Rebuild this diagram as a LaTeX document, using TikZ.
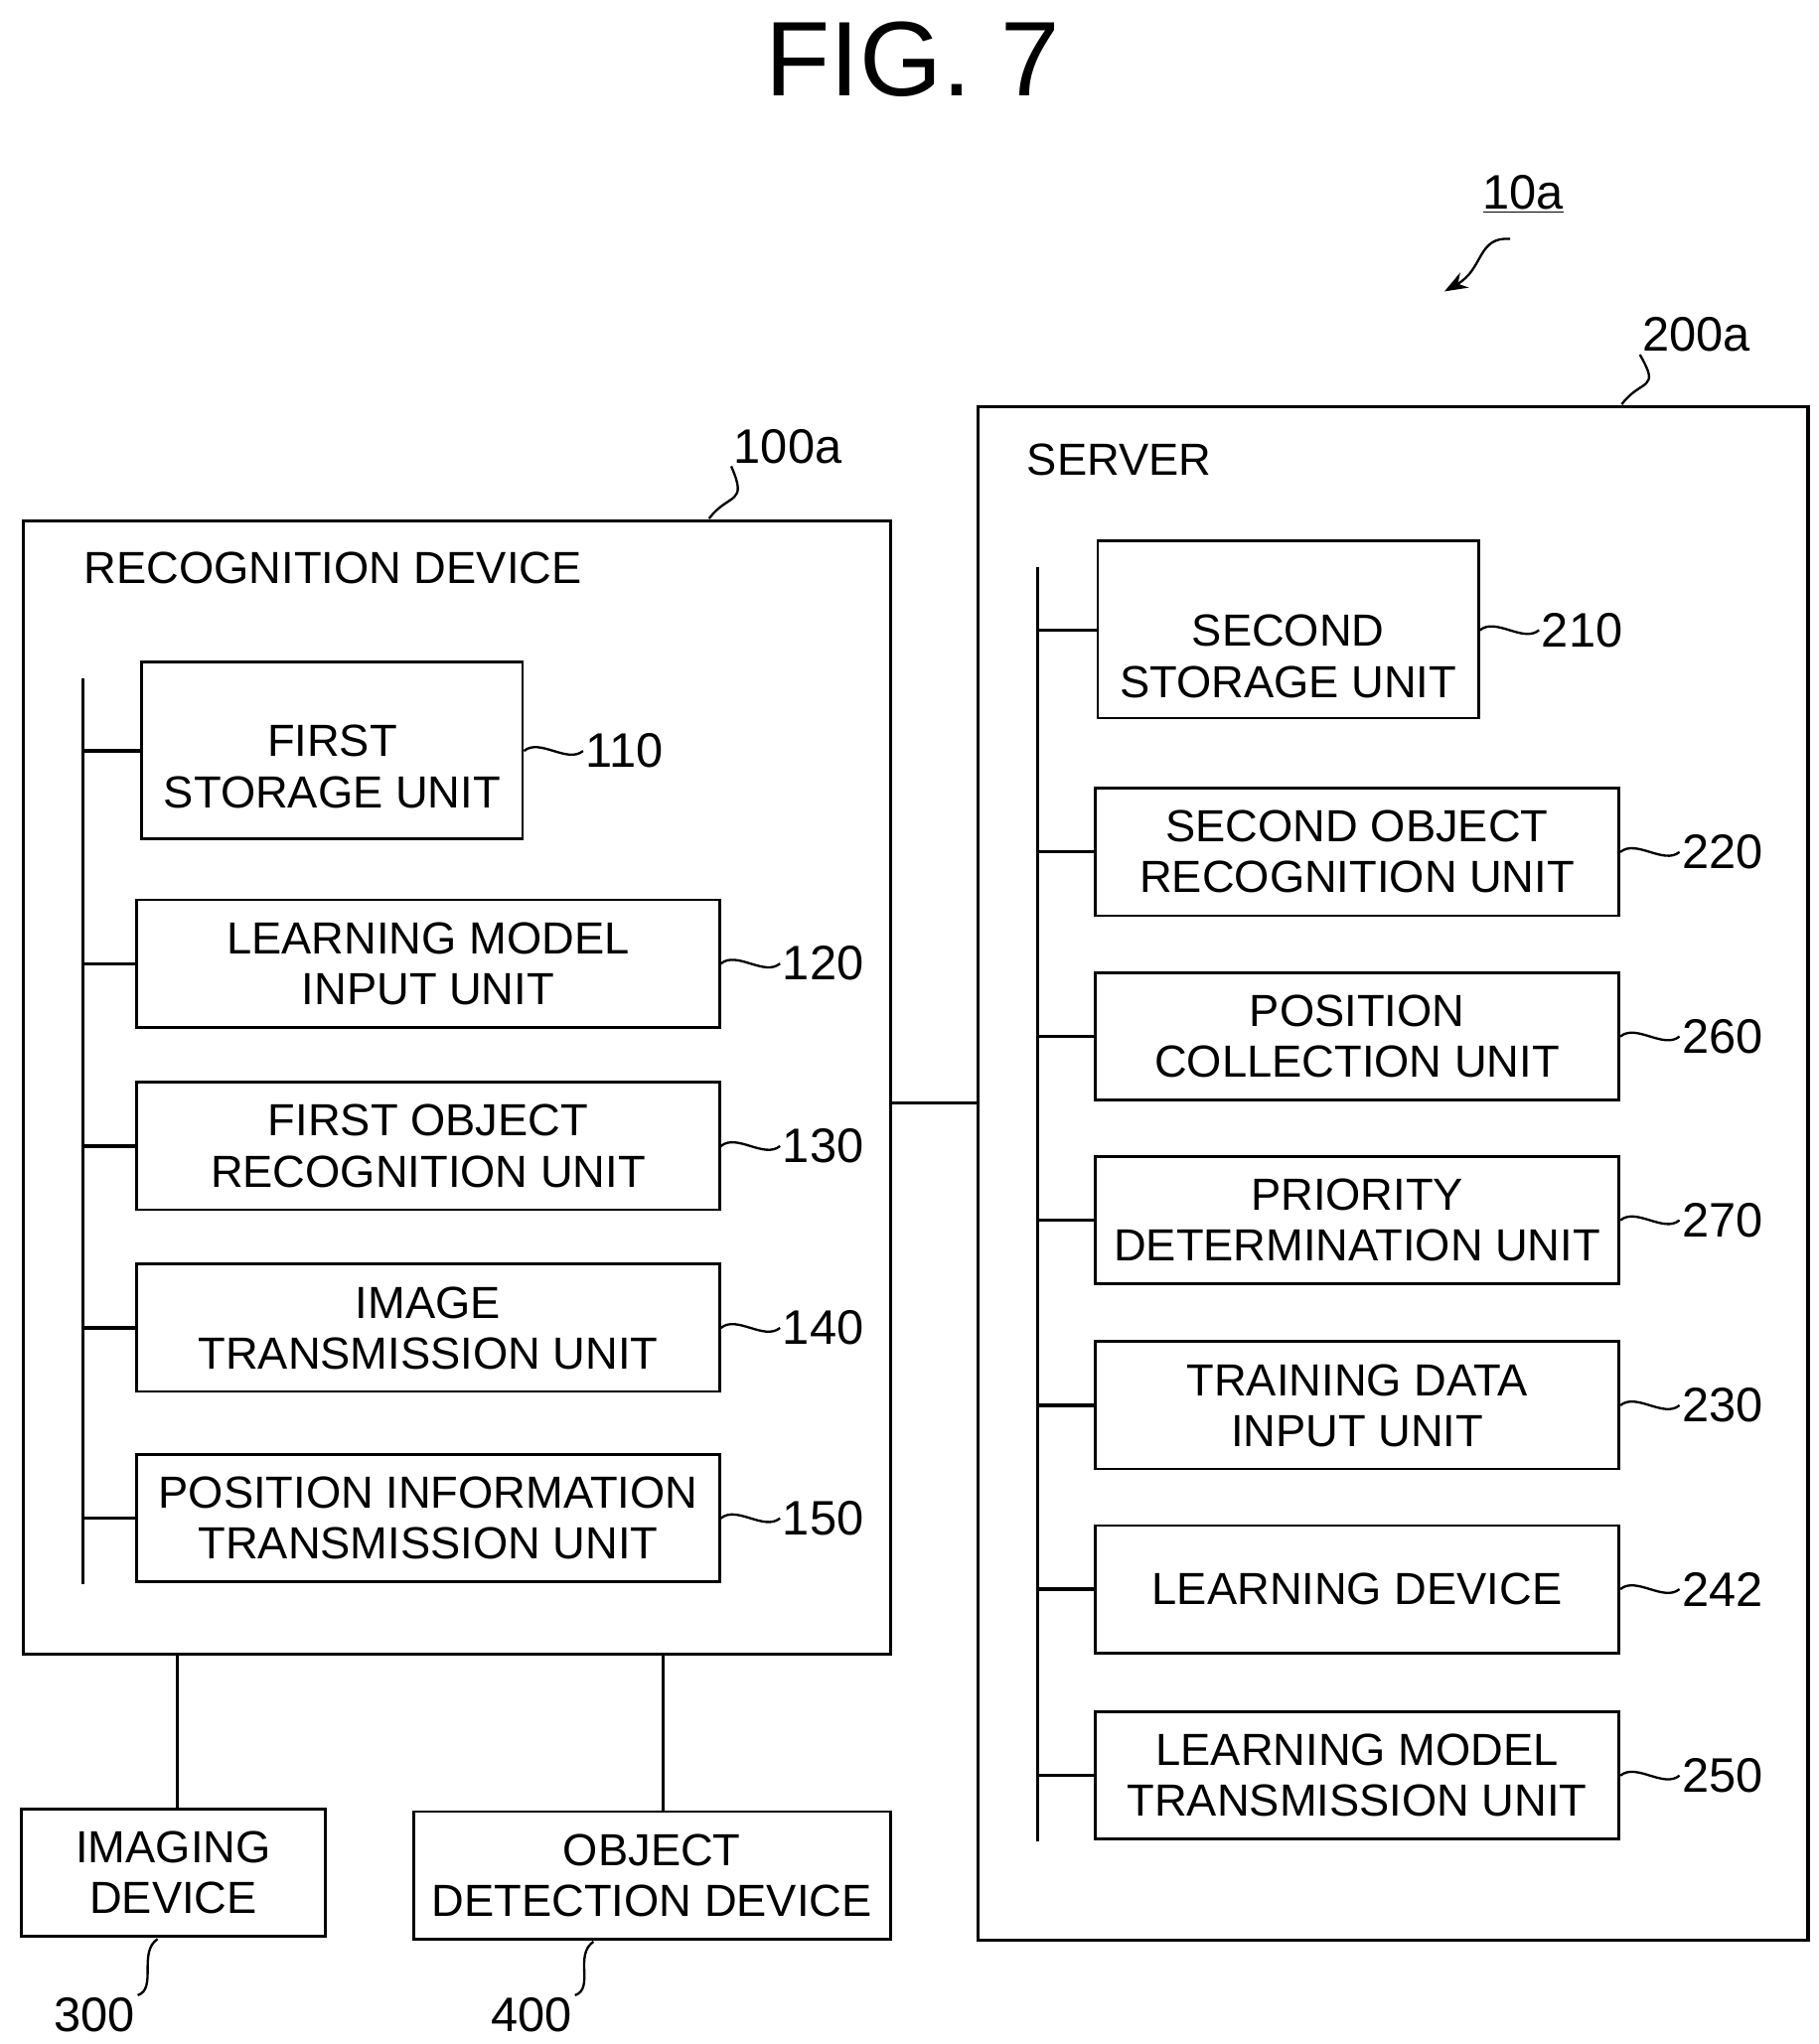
\documentclass[tikz,border=0pt]{standalone}
\usepackage{fontspec}
\setmainfont{Liberation Sans}
\usetikzlibrary{shapes.geometric,arrows.meta}
\tikzset{
    block/.style = {draw, rectangle, line width=1.2pt, inner sep=0pt,
        minimum height=1.94cm, align=center, font=\fontsize{19.5}{22}\selectfont},
    lblock/.style = {block, minimum width=8.88cm},
    sblock/.style = {block, minimum width=7.98cm},
    store/.style = {draw, cylinder, shape border rotate=90, aspect=0.25,
        line width=1.2pt, inner sep=0pt,
        minimum width=5.8cm, minimum height=2.7cm},
    storetext/.style = {align=center, inner sep=0pt, font=\fontsize{19.5}{22}\selectfont},
    frame/.style = {draw, line width=1.4pt},
    refnum/.style = {inner sep=1pt, font=\fontsize{21}{24}\selectfont},
    conn/.style = {line width=1.4pt},
    wave/.style = {line width=1pt}
}
\begin{document}
\begin{tikzpicture}[x=0.02cm, y=-0.02cm]
        \useasboundingbox (0,0) rectangle (1385,1557);
        \node (title) at (695,45) {\fontsize{46}{50}\selectfont FIG. 7};
        % system reference
        \node [refnum] (sys) at (1160,148) {\underline{10a}};
        \coordinate (systip) at (1100,222);
        \draw [wave, -{Stealth[length=3.5mm]}] (1150,182) .. controls (1125,180) and (1130,205) .. (systip);
        % recognition device
        \draw [frame] (18,397) rectangle (678,1260);
        \node [anchor=west, font=\fontsize{19.5}{22}\selectfont] (recog) at (58,433) {RECOGNITION DEVICE};
        \node [refnum] (l100) at (600,340) {100a};
        \draw [wave] (540,395) .. controls (555,375) and (570,385) .. (l100.south west);
        \draw [conn] (63,517) -- (63,1207);
        \node [store] (fs) at (253,572) {};
        \node [storetext] (fst) at (253,584) {FIRST\\STORAGE UNIT};
        \node [lblock] (lmi) at (326,734) {LEARNING MODEL\\INPUT UNIT};
        \node [lblock] (for) at (326,873) {FIRST OBJECT\\RECOGNITION UNIT};
        \node [lblock] (itu) at (326,1011.5) {IMAGE\\TRANSMISSION UNIT};
        \node [lblock] (pit) at (326,1156.5) {POSITION INFORMATION\\TRANSMISSION UNIT};
        \foreach \n/\r in {fs/110, lmi/120, for/130, itu/140, pit/150} {
            \node [refnum, anchor=west] (l\r) at ([xshift=0.9cm] \n.east |- \n.center) {\r};
            \draw [wave] (\n.east) .. controls +(12,-10) and +(-12,10) .. (l\r.west);
            \draw [conn] (63,0 |- \n.west) -- (\n.west);
        }
        % server
        \draw [frame] (745,310) rectangle (1377,1478);
        \node [anchor=west, font=\fontsize{19.5}{22}\selectfont] (server) at (776,350) {SERVER};
        \node [refnum] (l200) at (1292,255) {200a};
        \draw [wave] (1235,308) .. controls (1250,288) and (1265,298) .. (l200.south west);
        \draw [conn] (790,432) -- (790,1403);
        \node [store] (ss) at (981,480) {};
        \node [storetext] (sst) at (981,500) {SECOND\\STORAGE UNIT};
        \node [sblock] (sor) at (1033.5,649) {SECOND OBJECT\\RECOGNITION UNIT};
        \node [sblock] (pcu) at (1033.5,789.5) {POSITION\\COLLECTION UNIT};
        \node [sblock] (pdu) at (1033.5,929.5) {PRIORITY\\DETERMINATION UNIT};
        \node [sblock] (tdi) at (1033.5,1070.5) {TRAINING DATA\\INPUT UNIT};
        \node [sblock] (ldv) at (1033.5,1210.5) {LEARNING DEVICE};
        \node [sblock] (lmt) at (1033.5,1352.5) {LEARNING MODEL\\TRANSMISSION UNIT};
        \foreach \n/\r in {ss/210, sor/220, pcu/260, pdu/270, tdi/230, ldv/242, lmt/250} {
            \node [refnum, anchor=west] (l\r) at ([xshift=0.9cm] \n.east |- \n.center) {\r};
            \draw [wave] (\n.east) .. controls +(12,-10) and +(-12,10) .. (l\r.west);
            \draw [conn] (790,0 |- \n.west) -- (\n.west);
        }
        \draw [conn] (678,840) -- (745,840);
        % external devices
        \node [block, minimum width=4.64cm] (img) at (132,1426.5) {IMAGING\\DEVICE};
        \node [block, minimum width=7.26cm] (odd) at (496.5,1428.5) {OBJECT\\DETECTION DEVICE};
        \draw [conn] (135,1260) -- (135,0 |- img.north);
        \draw [conn] (505,1260) -- (505,0 |- odd.north);
        \node [refnum] (l300) at (72,1535) {300};
        \draw [wave] (l300.north east) .. controls +(15,-5) and +(-15,10) .. (120,1477);
        \node [refnum] (l400) at (405,1535) {400};
        \draw [wave] (l400.north east) .. controls +(15,-5) and +(-15,10) .. (452,1479);
\end{tikzpicture}
\end{document}
